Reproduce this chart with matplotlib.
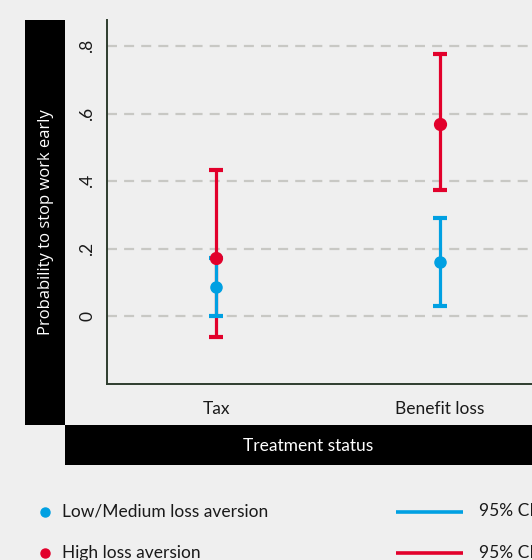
import matplotlib
matplotlib.use("Agg")
import matplotlib.pyplot as plt
from matplotlib.patches import Rectangle
from matplotlib.lines import Line2D

# ---- data ----
categories = ["Tax", "Benefit loss"]
series_names = ["Low/Medium loss aversion", "High loss aversion"]
low_mean = [0.087, 0.160]
low_lo = [0.000, 0.032]
low_hi = [0.174, 0.292]
high_mean = [0.174, 0.570]
high_lo = [-0.062, 0.373]
high_hi = [0.434, 0.776]
yticks = [0, 0.2, 0.4, 0.6, 0.8]
ytick_labels = ["0", ".2", ".4", ".6", ".8"]
ci_label = "95% CI"
ylabel = "Probability to stop work early"
xlabel = "Treatment status"

BG = "#efefef"
BLUE = "#00a0e2"
RED = "#e2002b"
FONT = "Lato"

W, H = 532, 560
fig = plt.figure(figsize=(W / 100, H / 100), dpi=100, facecolor=BG)

def fx(px):
    return px / W

def fy(py):
    return 1 - py / H

# axes in pixel coords: left 107, right 555, top 20, bottom 384
ax = fig.add_axes([fx(107), fy(384), (555 - 107) / W, (384 - 20) / H])
ax.set_facecolor(BG)

x = list(range(1, len(categories) + 1))

def draw(means, lo, hi, color):
    yerr = [[m - l for m, l in zip(means, lo)], [h - m for m, h in zip(means, hi)]]
    ax.errorbar(x, means, yerr=yerr, fmt="none", ecolor=color, elinewidth=2.3,
                capsize=5.0, capthick=3.0, zorder=3)

draw(high_mean, high_lo, high_hi, RED)
draw(low_mean, low_lo, low_hi, BLUE)
ax.plot(x, low_mean, "o", color=BLUE, markersize=8, zorder=5)
ax.plot(x, high_mean, "o", color=RED, markersize=8.5, zorder=5)

ax.set_xlim(0.513, 2.513)
ax.set_ylim(-0.2, 0.877)
ax.set_yticks(yticks)
ax.set_yticklabels(ytick_labels, rotation=90, va="center", fontsize=12.5,
                   family=FONT, color="#1a1a1a")
ax.set_xticks(x)
ax.set_xticklabels(categories, fontsize=12.5, family=FONT, color="#1a1a1a")
ax.tick_params(axis="both", length=0)
ax.tick_params(axis="y", pad=8.5)
ax.tick_params(axis="x", pad=12)
for yv in yticks:
    ax.axhline(yv, color="#c8c8c4", lw=1.6, ls=(0, (4.5, 3.2)), zorder=1)
for s in ["top", "right"]:
    ax.spines[s].set_visible(False)
for s in ["left", "bottom"]:
    ax.spines[s].set_color("#2e3d2e")
    ax.spines[s].set_linewidth(1.4)

# black label boxes
fig.patches.append(Rectangle((fx(25), fy(425)), fx(65) - fx(25), fy(20) - fy(425),
                             transform=fig.transFigure, facecolor="black",
                             edgecolor="none", zorder=0))
fig.patches.append(Rectangle((fx(65), fy(465)), fx(560) - fx(65), fy(425) - fy(465),
                             transform=fig.transFigure, facecolor="black",
                             edgecolor="none", zorder=0))
fig.text(fx(46), fy(222), ylabel, rotation=90, ha="center", va="center",
         color="white", fontsize=12, family="Open Sans")
fig.text(fx(308), fy(446), xlabel, ha="center", va="center",
         color="white", fontsize=12.5, family=FONT)

# legend (manual)
rows_y = [511.5, 553]
colors = [BLUE, RED]
for name, c, yy in zip(series_names, colors, rows_y):
    fig.add_artist(Line2D([fx(45.3)], [fy(yy)], marker="o", markersize=6.5,
                          color=c, transform=fig.transFigure, linestyle="none"))
    fig.text(fx(62), fy(yy), name, ha="left", va="center", fontsize=12.5,
             family=FONT, color="#1a1a1a")
    fig.add_artist(Line2D([fx(396), fx(463)], [fy(yy), fy(yy)], color=c, lw=2.6,
                          transform=fig.transFigure, solid_capstyle="butt"))
    fig.text(fx(479), fy(yy), ci_label, ha="left", va="center", fontsize=12.5,
             family=FONT, color="#1a1a1a")

fig.savefig("out.png", dpi=100, facecolor=BG)
